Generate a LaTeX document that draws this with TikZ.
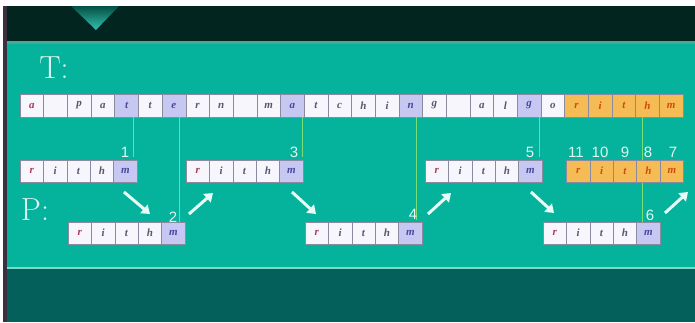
\documentclass[tikz,border=0pt]{standalone}
\usepackage{fontspec}
\newfontfamily\numfont{Liberation Sans}
\newfontfamily\cellfont{Liberation Serif}
\usetikzlibrary{arrows.meta}
\definecolor{darkband}{HTML}{02261F}
\definecolor{panel}{HTML}{05B29C}
\definecolor{bottomband}{HTML}{03605A}
\definecolor{edgestrip}{HTML}{3A3040}
\definecolor{panelline}{HTML}{4AA898}
\definecolor{lowline}{HTML}{80D8C8}
\definecolor{cellfill}{HTML}{F6F6FC}
\definecolor{cellborder}{HTML}{8A8AA0}
\definecolor{hlfill}{HTML}{C6C8F2}
\definecolor{orfill}{HTML}{F5BC55}
\definecolor{rtext}{HTML}{A83A5A}
\definecolor{gtext}{HTML}{5A5670}
\definecolor{btext}{HTML}{4848A0}
\definecolor{otext}{HTML}{D04A10}
\definecolor{labeltext}{HTML}{D8F5EE}
\definecolor{numtext}{HTML}{E4F6F0}
\definecolor{gline}{HTML}{78E070}
\definecolor{arrowc}{HTML}{E6FAF6}
\tikzset{
  cellbase/.style={draw=cellborder, line width=0.5pt, fill=cellfill, inner sep=0pt, outer sep=0pt,
    minimum height=23pt, anchor=north west, font=\cellfont\bfseries\itshape\fontsize{11}{11}\selectfont, text=gtext},
  tc/.style={cellbase, minimum width=23.68pt},
  pc/.style={cellbase, minimum width=23.4pt, minimum height=22pt},
  hl/.style={fill=hlfill, text=btext},
  orc/.style={fill=orfill, text=otext},
  rr/.style={text=rtext},
  greenline/.style={draw=gline, line width=0.7pt},
  num/.style={font=\numfont\fontsize{15}{15}\selectfont, text=numtext, inner sep=0pt},
  bigl/.style={font=\fontsize{32}{32}\selectfont, text=labeltext, inner sep=0pt},
  warrow/.style={draw=arrowc, line width=3pt, -{Triangle[length=8pt,width=11pt]}}
}
\newcommand\prow[4]{%
  \node[pc,rr,#4] (#1r) at (#2,#3) {r};
  \node[pc,#4] (#1i) at (#1r.north east) {i};
  \node[pc,#4] (#1t) at (#1i.north east) {t};
  \node[pc,#4] (#1h) at (#1t.north east) {h};
  \node[pc,hl,#4] (#1m) at (#1h.north east) {m};
}
\begin{document}
\begin{tikzpicture}[x=1pt,y=-1pt]
\useasboundingbox (0,0) rectangle (695,322);
\fill[white] (0,0) rectangle (695,322);
% backgrounds
\fill[darkband] (3,6) rectangle (695,42);
\fill[panel] (3,42) rectangle (695,268);
\fill[bottomband] (3,268) rectangle (695,322);
\fill[panelline] (3,41) rectangle (695,43.5);
\fill[lowline] (3,266.5) rectangle (695,269);
\fill[edgestrip] (3,6) rectangle (7,322);
\shade[top color=darkband!70!panel, bottom color=panel!80!white] (71,6) -- (119,6) -- (96,30) -- cycle;
% labels
\node[bigl] (tlab) at (54,68) {T:};
\node[bigl] (plab) at (35,210) {P:};
% text row
\foreach \i/\ch/\st in {0/a/rr,1/\relax/tc,2/p/tc,3/a/tc,4/t/hl,5/t/tc,6/e/hl,7/r/tc,8/n/tc,9/\relax/tc,
  10/m/tc,11/a/hl,12/t/tc,13/c/tc,14/h/tc,15/i/tc,16/n/hl,17/g/tc,18/\relax/tc,19/a/tc,20/l/tc,
  21/g/hl,22/o/tc,23/r/orc,24/i/orc,25/t/orc,26/h/orc,27/m/orc}
  \node[tc,\st] (t\i) at ({20+\i*23.68},94) {\ch};
% green guide lines (drawn before pattern cells)
\draw[greenline] ([xshift=6.4pt]t4.south) -- ++(0,40);
\draw[greenline] ([xshift=5pt]t6.south) -- ++(0,105);
\draw[greenline] ([xshift=9.7pt]t11.south) -- ++(0,40);
\draw[greenline] ([xshift=5.3pt]t16.south) -- ++(0,103);
\draw[greenline] ([xshift=9.9pt]t21.south) -- ++(0,40);
\draw[greenline] ([xshift=-5.5pt]t26.south) -- ++(0,105);
% pattern rows
\prow{pa}{20}{160}{}
\prow{pb}{68}{222}{}
\prow{pc}{186}{160}{}
\prow{pd}{305}{222}{}
\prow{pe}{425}{160}{}
\prow{pf}{543}{222}{}
\prow{pg}{566.5}{160}{orc}
% numbers
\node[num] (n1) at (125,152) {1};
\node[num] (n2) at (173,217) {2};
\node[num] (n3) at (294,152) {3};
\node[num] (n4) at (413,214) {4};
\node[num] (n5) at (530,152) {5};
\node[num] (n6) at (650,215) {6};
\node[num] (n11) at (576,152) {11};
\node[num] (n10) at (600,152) {10};
\node[num] (n9) at (625,152) {9};
\node[num] (n8) at (648,152) {8};
\node[num] (n7) at (673,152) {7};
% arrows
\draw[warrow] (124,192) -- (150,214);
\draw[warrow] (189,214) -- (213,193);
\draw[warrow] (292,192) -- (316,214);
\draw[warrow] (428,214) -- (451,193);
\draw[warrow] (531,192) -- (554,213);
\draw[warrow] (665,213) -- (688,192);
\end{tikzpicture}
\end{document}
